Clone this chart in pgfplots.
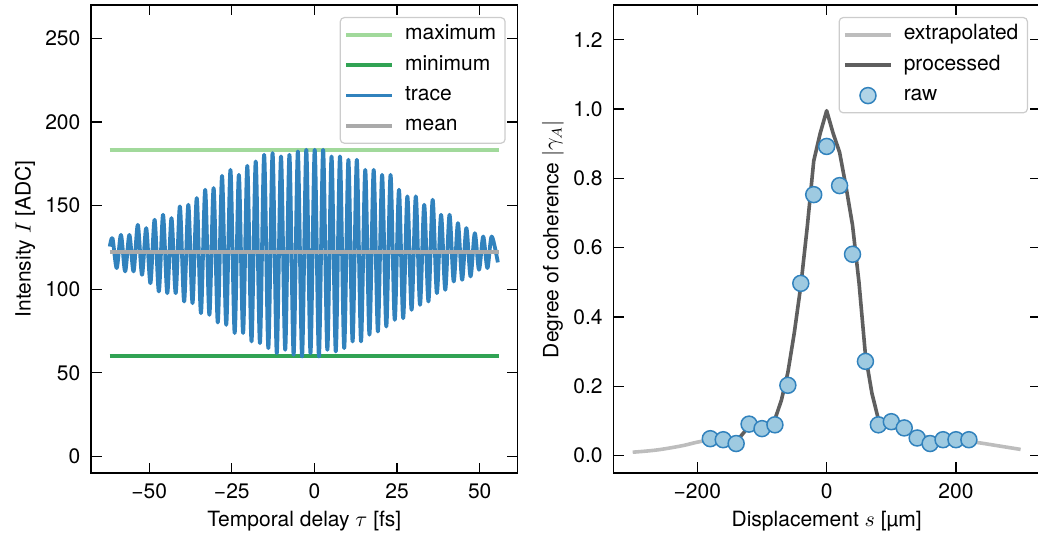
\documentclass[border=0pt]{standalone}
\usepackage{fontspec}
\setmainfont{TeX Gyre Heros}
\usepackage{pgfplots}
\pgfplotsset{compat=1.18}
\definecolor{cmax}{HTML}{A1D99B}
\definecolor{cmin}{HTML}{31A354}
\definecolor{ctrace}{HTML}{3182BD}
\definecolor{cmean}{HTML}{AAAAAA}
\definecolor{cext}{HTML}{BDBDBD}
\definecolor{cproc}{HTML}{5F5F5F}
\definecolor{craw}{HTML}{9ECAE1}
\pgfplotsset{
  myaxis/.style={
    scale only axis, width=213.35pt, height=234pt, anchor=south west,
    font=\fontsize{10.5}{12.6}\selectfont,
    /pgf/number format/assume math mode=true,
    tick align=inside, major tick length=5.25pt, minor tick num=0,
    every tick/.style={black, line width=0.6pt},
    axis line style={line width=0.6pt},
    xticklabel style={anchor=base, yshift=-12.65pt},
    yticklabel style={anchor=east, inner sep=0pt, xshift=-5.15pt},
    every axis x label/.style={at={(axis description cs:0.5,0)}, anchor=base, yshift=-27pt},
    legend cell align=left,
    legend style={at={(1,1)}, anchor=north east, xshift=-6pt, yshift=-6pt,
      draw=black!20, line width=0.6pt, rounded corners=2pt, fill=white, fill opacity=0.8, text opacity=1,
      inner xsep=2pt, inner ysep=1pt, column sep=3pt,
      nodes={inner sep=2.5pt, text height=7.6pt, text depth=2.6pt},
      font=\fontsize{10.5}{12.6}\selectfont},
    legend image code/.code={\draw[mark repeat=2,mark phase=2,#1] plot coordinates {(0pt,0pt) (11.5pt,0pt) (23pt,0pt)};},
  }
}
\begin{document}
\begin{tikzpicture}
\begin{axis}[myaxis, at={(45.5pt,31pt)},
  xmin=-67.6, xmax=61.5, ymin=-10, ymax=270,
  xtick={-50,-25,0,25,50}, xticklabels={−50,−25,0,25,50},
  ytick={0,50,100,150,200,250},
  xlabel={Temporal delay $\tau$ [fs]},
  ylabel={Intensity $I$ [ADC]},
  every axis y label/.style={at={(axis description cs:-0.1413,0.5)}, anchor=base, rotate=90},
]
\addplot[cmax, line width=1.8pt] coordinates {(-62,183.4) (55.8,183.4)};
\addlegendentry{maximum}
\addplot[cmin, line width=1.8pt] coordinates {(-62,60.1) (55.8,60.1)};
\addlegendentry{minimum}
\addplot[ctrace, line width=1.9pt, smooth, line join=round] coordinates {
(-61.9,125.5)
(-61.09,130.5) (-59.82,112.6)
(-58.54,132.5) (-57.27,110.6)
(-55.99,132.5) (-54.72,110.6)
(-53.44,138.5) (-52.17,108.6)
(-50.89,136.5) (-49.62,103.6)
(-48.35,141.5) (-47.07,98.6)
(-45.80,144.5) (-44.52,97.6)
(-43.25,142.5) (-41.97,97.6)
(-40.70,149.5) (-39.42,92.6)
(-38.15,150.5) (-36.88,91.6)
(-35.60,154.5) (-34.33,85.6)
(-33.05,159.5) (-31.78,84.6)
(-30.50,160.5) (-29.23,80.0)
(-27.95,167.8) (-26.68,78.6)
(-25.40,171.4) (-24.13,73.7)
(-22.86,168.4) (-21.58,73.7)
(-20.31,173.8) (-19.03,68.7)
(-17.76,176.4) (-16.48,67.7)
(-15.21,180.4) (-13.94,64.7)
(-12.66,181.4) (-11.39,61.7)
(-10.11,179.4) (-8.84,63.7)
(-7.56,180.4) (-6.29,60.7)
(-5.01,182.4) (-3.74,59.7)
(-2.46,183.4) (-1.19,61.7)
(0.09,183.4) (1.36,59.7)
(2.63,183.4) (3.91,63.7)
(5.18,179.4) (6.46,62.7)
(7.73,179.4) (9.01,64.7)
(10.28,177.4) (11.55,68.7)
(12.83,177.4) (14.10,68.7)
(15.38,171.4) (16.65,72.7)
(17.93,171.4) (19.20,74.6)
(20.48,168.4) (21.75,77.6)
(23.03,168.4) (24.30,81.6)
(25.58,159.5) (26.85,82.6)
(28.12,155.5) (29.40,87.6)
(30.67,155.5) (31.95,90.6)
(33.22,150.5) (34.50,92.6)
(35.77,153.5) (37.04,97.6)
(38.32,144.5) (39.59,99.6)
(40.87,144.5) (42.14,104.6)
(43.42,139.5) (44.69,105.6)
(45.97,136.5) (47.24,107.6)
(48.52,133.5) (49.79,111.6)
(51.07,131.5) (52.34,112.6)
(53.62,131.5) (55.5,116.0)
};
\addlegendentry{trace}
\addplot[cmean, line width=1.8pt] coordinates {(-62,122.2) (55.8,122.2)};
\addlegendentry{mean}
\end{axis}

\begin{axis}[myaxis, at={(306.65pt,31pt)},
  xmin=-330, xmax=330, ymin=-0.05, ymax=1.3,
  xtick={-200,0,200}, xticklabels={−200,0,200},
  ytick={0,0.2,0.4,0.6,0.8,1.0,1.2}, yticklabels={0.0,0.2,0.4,0.6,0.8,1.0,1.2},
  xlabel={Displacement $s$ [µm]},
  ylabel={Degree of coherence $|\gamma_A|$},
  every axis y label/.style={at={(axis description cs:-0.1289,0.5)}, anchor=base, rotate=90},
]
\addplot[cext, line width=1.8pt, smooth] coordinates {
(-300,0.010) (-280,0.013) (-260,0.017) (-240,0.023) (-220,0.030) (-200,0.039) (-180,0.045) (-160,0.045) (-140,0.040)};
\addlegendentry{extrapolated}
\addplot[cext, line width=1.8pt, smooth, forget plot] coordinates {
(80,0.105) (100,0.085) (120,0.070) (140,0.060) (160,0.052) (180,0.047) (200,0.044) (220,0.041) (240,0.036) (260,0.030) (280,0.024) (300,0.018)};
\addplot[cproc, line width=1.8pt, line join=round] coordinates {
(-140,0.040) (-120,0.085) (-100,0.085) (-80,0.105) (-70,0.16) (-60,0.24) (-50,0.355) (-40,0.49) (-30,0.66) (-20,0.85) (-10,0.93) (0,0.995) (10,0.93) (20,0.875) (30,0.775) (40,0.665) (50,0.50) (60,0.29) (70,0.18) (80,0.105)};
\addlegendentry{processed}
\addplot[only marks, mark=*, mark size=4pt, mark options={fill=craw, draw=ctrace, line width=0.75pt}] coordinates {
(-180,0.049) (-160,0.046) (-140,0.035) (-120,0.091) (-100,0.078) (-80,0.089) (-60,0.203) (-40,0.497) (-20,0.753) (0,0.892) (20,0.779) (40,0.581) (60,0.272) (80,0.089) (100,0.098) (120,0.080) (140,0.051) (160,0.035) (180,0.046) (200,0.046) (220,0.046)};
\addlegendentry{raw}
\end{axis}
\pgfresetboundingbox
\useasboundingbox (0,0) rectangle (519pt,267.5pt);
\end{tikzpicture}
\end{document}
